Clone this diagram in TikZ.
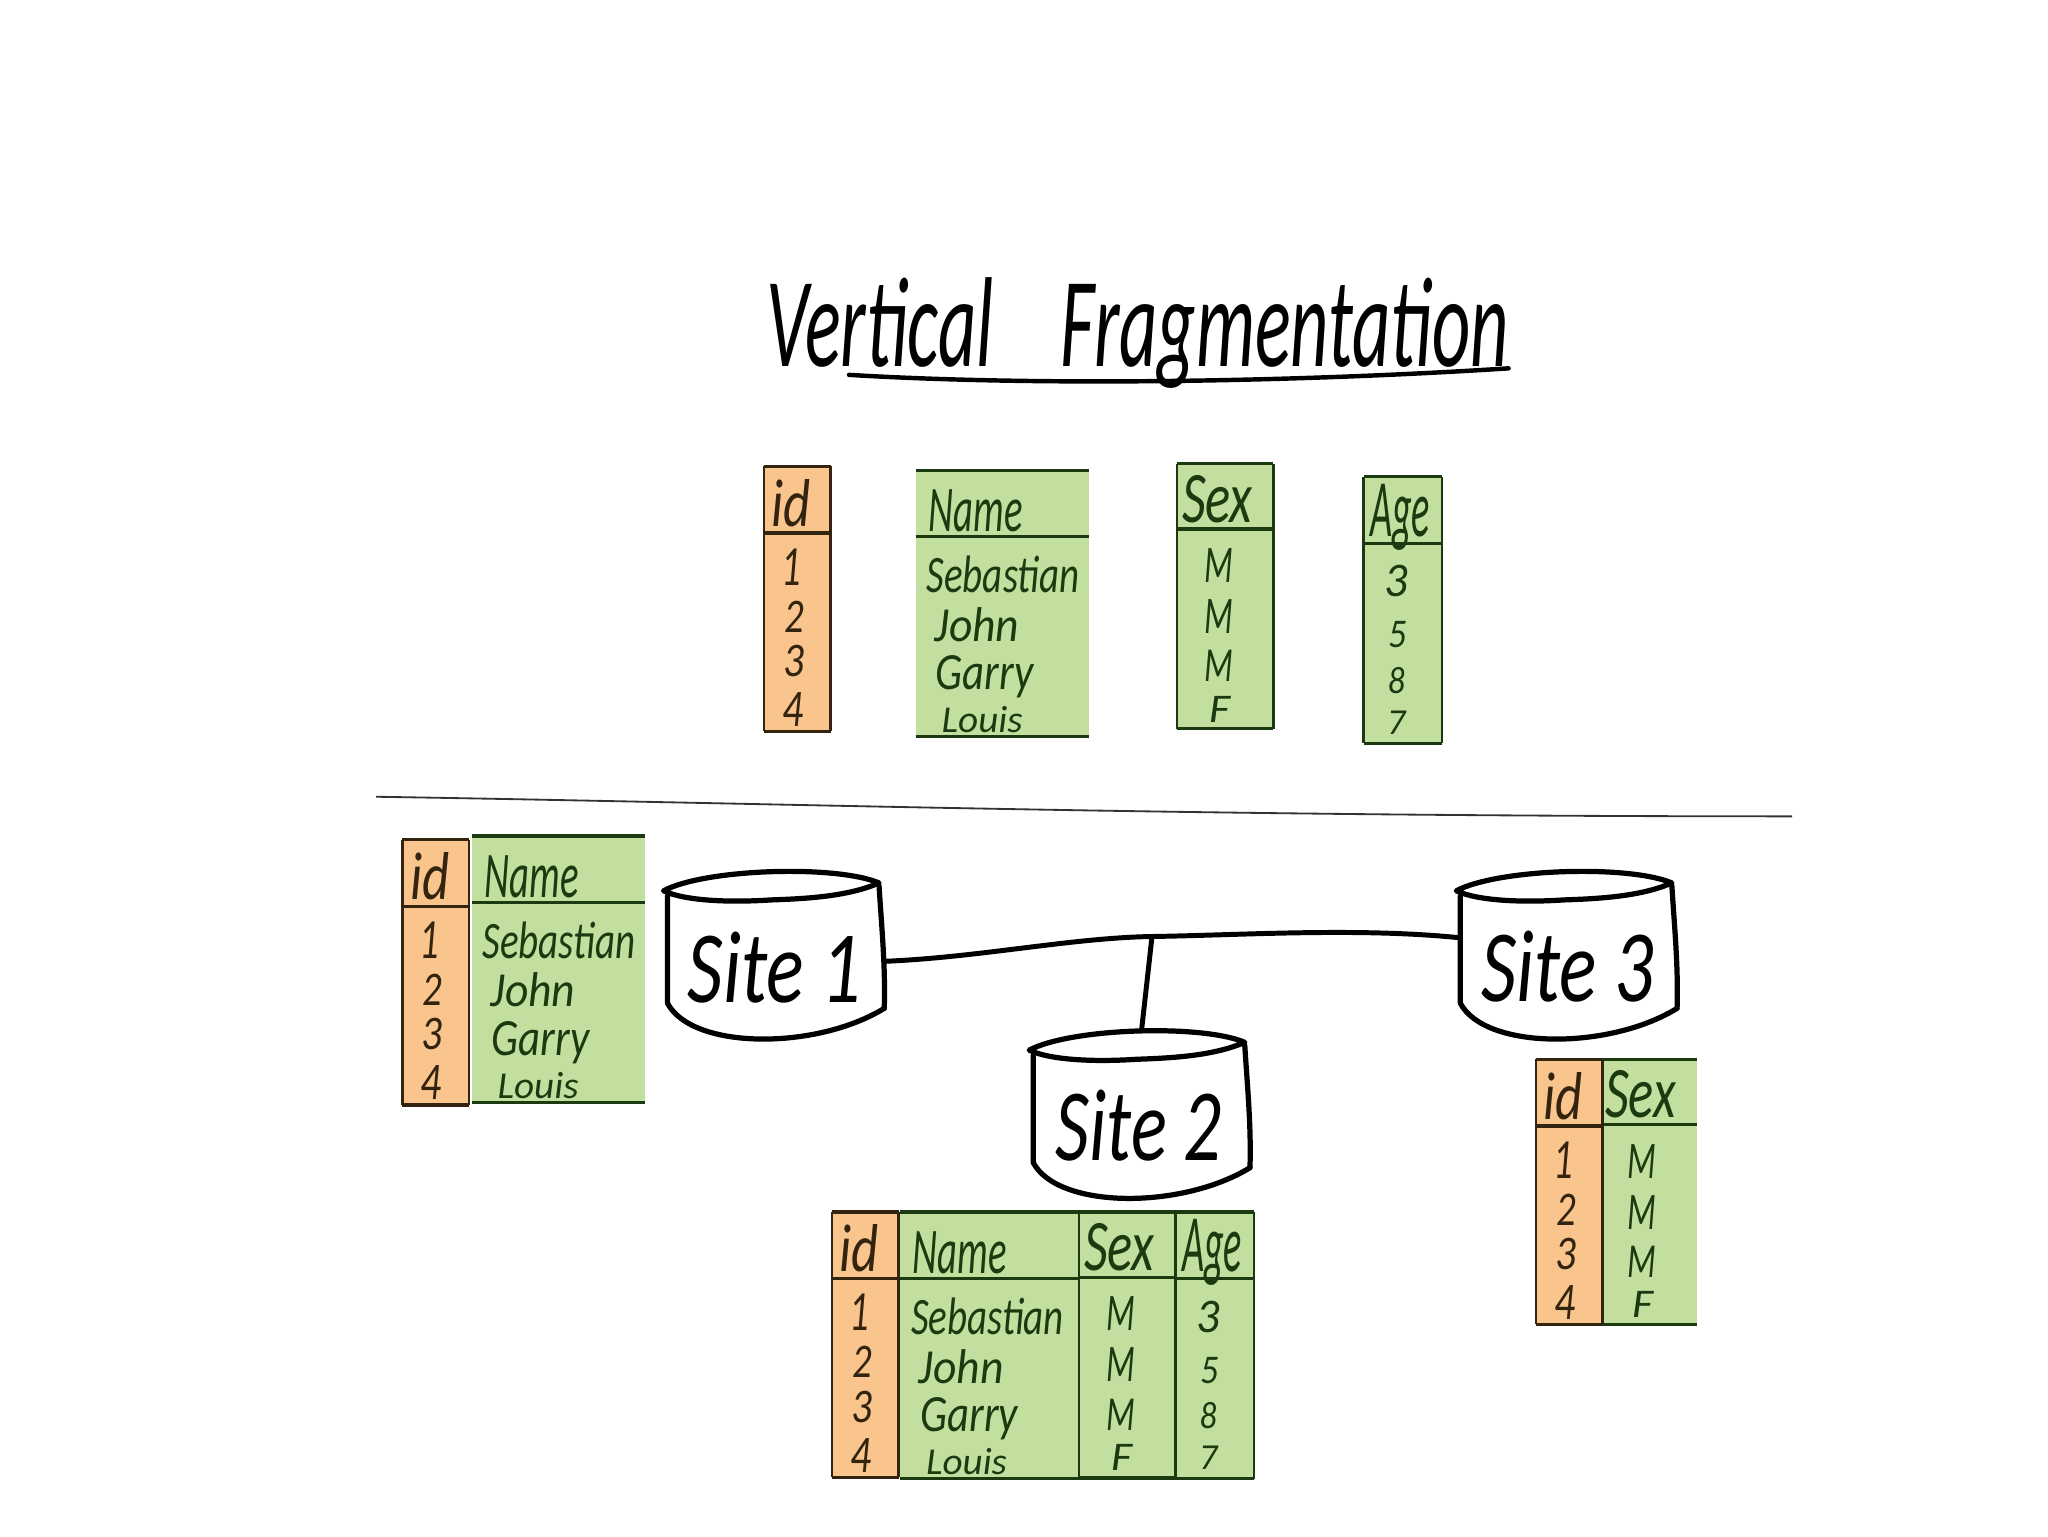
\documentclass[tikz,border=0pt]{standalone}
\usepackage{fontspec}
\setmainfont{Carlito}
\definecolor{cellorange}{HTML}{F9C58D}
\definecolor{cellgreen}{HTML}{C2DFA0}
\definecolor{inkgreen}{HTML}{1B3A10}
\definecolor{inkbrown}{HTML}{33240F}
\newcommand\hw[6]{\node[hand] (#1) at (#2,#3) {\resizebox{#4pt}{#5pt}{\itshape #6}};}
% x1 y1 yhead x2 y2 fill line sidestyle
\newcommand\tcol[8]{%
  \fill[#6] (#1,#2) rectangle (#4,#5);
  \draw[rowline,draw=#7] (#1,#2) -- (#4,#2) (#1,#3) -- (#4,#3) (#1,#5) -- (#4,#5);
  \draw[#8,draw=#7] (#1,#2) -- (#1,#5) (#4,#2) -- (#4,#5);}
\newcommand\idcol[3]{\begin{scope}[shift={(#2,#3)},name prefix=#1-,text=inkbrown]
  \tcol{585}{357}{408}{636}{560}{cellorange}{inkbrown}{sideline}
  \hw{h}{606}{385}{30}{36}{id}
  \hw{a}{606}{434}{15}{28}{1}
  \hw{b}{608}{472}{15}{24}{2}
  \hw{c}{608}{506}{16}{24}{3}
  \hw{d}{607}{543}{16}{26}{4}
\end{scope}}
\newcommand\namecol[3]{\begin{scope}[shift={(#2,#3)},name prefix=#1-,text=inkgreen]
  \tcol{701}{360}{411}{834}{564}{cellgreen}{inkgreen}{nosides}
  \hw{h}{747}{391}{72}{32}{Name}
  \hw{a}{768}{440}{117}{28}{Sebastian}
  \hw{b}{748}{478}{65}{26}{John}
  \hw{c}{754}{518}{75}{26}{Garry}
  \hw{d}{752}{551}{62}{20}{Louis}
\end{scope}}
\newcommand\sexcol[4]{\begin{scope}[shift={(#2,#3)},name prefix=#1-,text=inkgreen]
  \tcol{901}{355}{405}{975}{558}{cellgreen}{inkgreen}{#4}
  \hw{h}{932}{382}{54}{36}{Sex}
  \hw{a}{933}{433}{22}{26}{M}
  \hw{b}{933}{472}{22}{26}{M}
  \hw{c}{933}{510}{22}{24}{M}
  \hw{d}{934}{543}{16}{20}{F}
\end{scope}}
\newcommand\agecol[3]{\begin{scope}[shift={(#2,#3)},name prefix=#1-,text=inkgreen]
  \tcol{1044}{365}{416}{1104}{569}{cellgreen}{inkgreen}{sideline}
  \hw{h}{1072}{396}{46}{40}{Age}
  \hw{a}{1069}{445}{18}{24}{3}
  \hw{b}{1070}{486}{14}{20}{5}
  \hw{c}{1069}{521}{13}{20}{8}
  \hw{d}{1069}{553}{14}{18}{7}
\end{scope}}
% name, dx, dy, label, label-centre-x, label-centre-y, label-width
\newcommand\sitecyl[7]{\begin{scope}[shift={(#2,#3)}]
  \node[sitebox] (#1) at (594,731) {};
  \draw[cyl] (508,682) .. controls (540,665) and (640,662) .. (673,676)
     .. controls (650,686) and (620,688) .. (590,689)
     .. controls (560,691) and (525,690) .. (508,682) -- cycle;
  \draw[cyl] (511,686) -- (511,768) .. controls (530,804) and (625,804) .. (677,772);
  \draw[cyl] (673,678) .. controls (675,710) and (678,740) .. (677,772);
  \hw{#1-label}{#5}{#6}{#7}{54}{#4}
\end{scope}}
\tikzset{
  x=1pt,y=-1pt,
  hand/.style={inner sep=0pt,outer sep=0pt},
  rowline/.style={line width=2.5pt},
  sideline/.style={line width=2pt},
  nosides/.style={draw opacity=0},
  sitebox/.style={draw=none,inner sep=0pt,minimum width=166pt,minimum height=128pt},
  cyl/.style={line width=4pt,line cap=round,line join=round},
  wire/.style={line width=3.8pt,line cap=round},
  rule/.style={line width=1.4pt,draw=black!80},
}
\begin{document}
\begin{tikzpicture}
\useasboundingbox (0,0) rectangle (1568,1176);
\fill[white] (0,0) rectangle (1568,1176);
% title
\hw{title}{871}{255}{568}{68}{Vertical\hspace{0.9em}Fragmentation}
\coordinate (ulA) at (650,287);
\coordinate (ulB) at (1155,282);
\draw[line width=3.4pt,line cap=round] (ulA) .. controls (800,296) and (1000,292) .. (ulB);
% top row
\idcol{topid}{0}{0}
\namecol{topname}{0}{0}
\sexcol{topsex}{0}{0}{sideline}
\agecol{topage}{0}{0}
% divider
\coordinate (divA) at (288,610);
\coordinate (divB) at (1372,625);
\draw[rule] (divA) .. controls (600,615) and (900,625) .. (divB);
% site 1 table
\namecol{aname}{-340}{280}
\idcol{aid}{-277}{286}
% site 3 table
\sexcol{csex}{324}{456}{nosides}
\idcol{cid}{591}{454}
% site 2 table
\fill[cellgreen] (689,928) rectangle (960,1132);
\draw[rowline,draw=inkgreen] (689,928) -- (960,928) (689,979) -- (960,979) (689,1132) -- (960,1132);
\namecol{bname}{-12}{568}
\sexcol{bsex}{-75}{573}{sideline}
\agecol{bage}{-144}{563}
\idcol{bid}{52}{571}
% sites
\sitecyl{site1}{0}{0}{Site 1}{593}{741}{133}
\sitecyl{site2}{280}{122}{Site 2}{592}{740}{127}
\sitecyl{site3}{607}{0}{Site 3}{593}{740}{132}
% connectors
\coordinate (jn) at (882,717);
\draw[wire] ([yshift=-5pt]site1.east) .. controls (750,733) and (820,718) .. (jn)
   .. controls (950,716) and (1040,710) .. ([yshift=13pt]site3.west);
\draw[wire] (jn) -- (site2.north);
\end{tikzpicture}
\end{document}
